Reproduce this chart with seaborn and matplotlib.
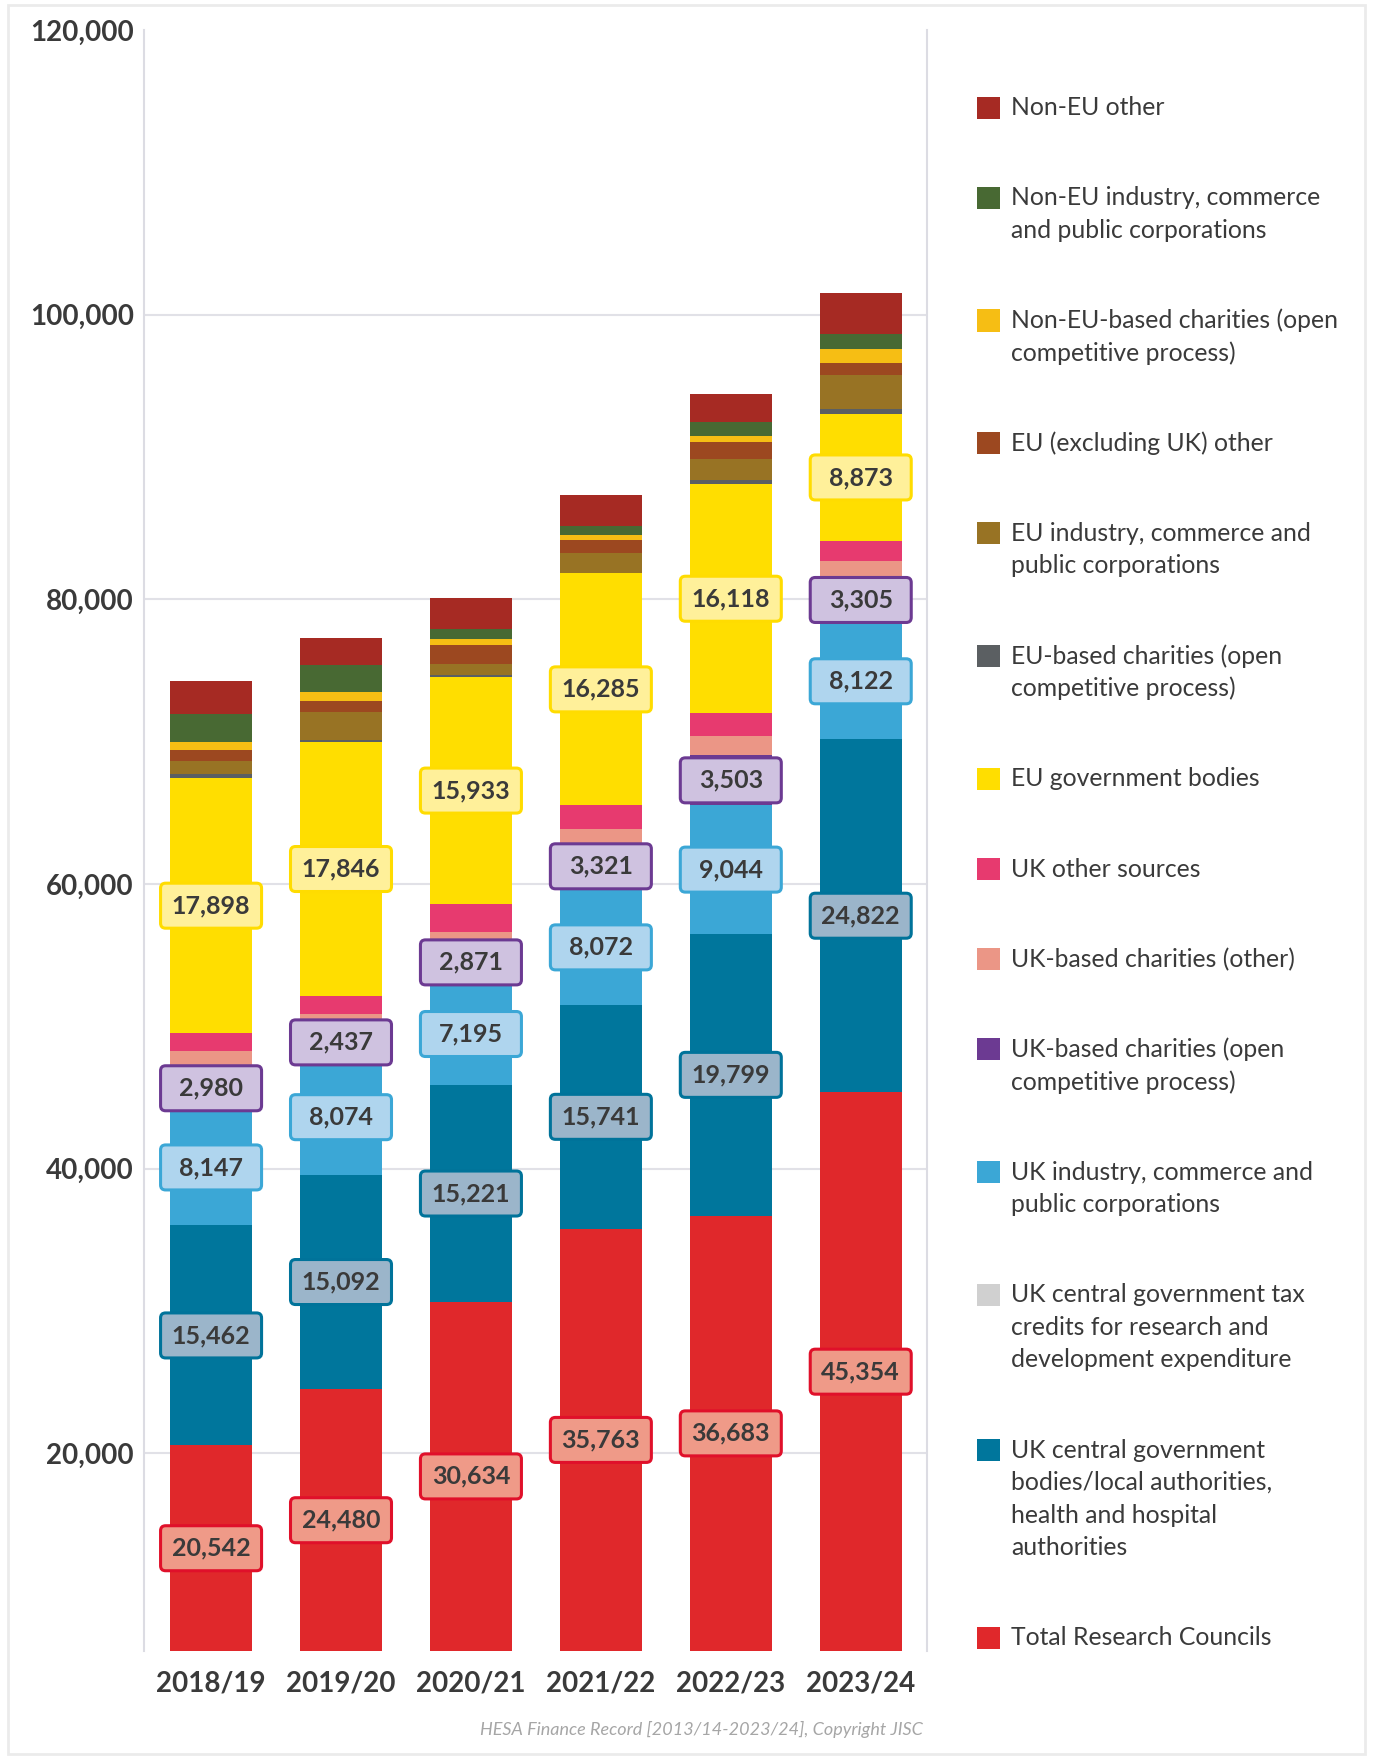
import pandas as pd
import seaborn as sns
import matplotlib.pyplot as plt
from matplotlib.patches import FancyBboxPatch, Rectangle
from matplotlib.transforms import ScaledTranslation

years = ['2018/19', '2019/20', '2020/21', '2021/22', '2022/23', '2023/24']

# stack order, bottom to top (values in £000s, labelled ones)
research_councils = [20542, 24480, 30634, 35763, 36683, 45354]
uk_gov_bodies = [15462, 15092, 15221, 15741, 19799, 24822]
uk_tax_credits = [0, 0, 0, 0, 0, 0]
uk_industry = [8147, 8074, 7195, 8072, 9044, 8122]
uk_charities_open = [2980, 2437, 2871, 3321, 3503, 3305]
uk_charities_other = [1120, 770, 700, 940, 1330, 1120]
uk_other = [1270, 1270, 1970, 1690, 1620, 1400]
eu_gov = [17898, 17846, 15933, 16285, 16118, 8873]
eu_charities = [280, 140, 140, 60, 280, 350]
eu_industry = [910, 1970, 770, 1400, 1480, 2390]
eu_other = [770, 770, 1340, 910, 1190, 840]
non_eu_charities = [560, 660, 420, 350, 420, 980]
non_eu_industry = [1970, 1870, 700, 630, 980, 1050]
non_eu_other = [2320, 1890, 2180, 2180, 1970, 2880]

series = ['Total Research Councils', 'UK central government bodies', 'UK tax credits',
          'UK industry', 'UK charities open', 'UK charities other', 'UK other',
          'EU government', 'EU charities', 'EU industry', 'EU other',
          'Non-EU charities', 'Non-EU industry', 'Non-EU other']
values = [research_councils, uk_gov_bodies, uk_tax_credits, uk_industry, uk_charities_open,
          uk_charities_other, uk_other, eu_gov, eu_charities, eu_industry, eu_other,
          non_eu_charities, non_eu_industry, non_eu_other]
colors = ['#e0282b', '#00769c', '#d0d0d0', '#3ba7d6', '#6c3a92', '#eb9686', '#e73a6f',
          '#ffde00', '#5b5f62', '#987324', '#9c4820', '#f6be14', '#486933', '#a62a23']
legend_labels = ['Total Research Councils',
                 'UK central government\nbodies/local authorities,\nhealth and hospital\nauthorities',
                 'UK central government tax\ncredits for research and\ndevelopment expenditure',
                 'UK industry, commerce and\npublic corporations',
                 'UK-based charities (open\ncompetitive process)',
                 'UK-based charities (other)',
                 'UK other sources',
                 'EU government bodies',
                 'EU-based charities (open\ncompetitive process)',
                 'EU industry, commerce and\npublic corporations',
                 'EU (excluding UK) other',
                 'Non-EU-based charities (open\ncompetitive process)',
                 'Non-EU industry, commerce\nand public corporations',
                 'Non-EU other']

# label boxes: series -> (face, edge)
label_style = {
    'Total Research Councils': ('#ef9a88', '#e0102a'),
    'UK central government bodies': ('#9bb5ca', '#00739a'),
    'UK industry': ('#afd5ee', '#3ba7d6'),
    'UK charities open': ('#cfc2e0', '#6c3a92'),
    'EU government': ('#fff09a', '#ffdc00'),
}

df = pd.DataFrame(dict(zip(series, values)), index=years)
cum = df.cumsum(axis=1)

sns.set_theme(style='white')
plt.rcParams['font.family'] = ['Lato', 'DejaVu Sans']

W, H = 1373, 1757
fig = plt.figure(figsize=(W / 100, H / 100), dpi=100)
ax = fig.add_axes([143.5 / W, 1 - 1651 / H, 783.5 / W, 1621 / H])

# stacked bars: draw cumulative totals from the top down
for name, color in reversed(list(zip(series, colors))):
    sns.barplot(x=years, y=cum[name].values, color=color, saturation=1,
                width=0.63, errorbar=None, linewidth=0, ax=ax, zorder=2)

ymin, ymax = 6100, 120000
ax.set_ylim(ymin, ymax)
ax.set_xlim(-0.52, 5.51)
yticks = list(range(20000, 120001, 20000))
ax.set_yticks(yticks)
ax.set_yticklabels([f'{v:,}' for v in yticks])
ax.set_xticks(range(len(years)))
ax.set_xticklabels(years)
ax.set_xlabel('')
ax.set_ylabel('')
for v in yticks[:-1]:
    ax.axhline(v, color='#e1e1e7', lw=1.5, zorder=1)

for side in ['top', 'bottom']:
    ax.spines[side].set_visible(False)
for side in ['left', 'right']:
    ax.spines[side].set_color('#dcdce3')
    ax.spines[side].set_linewidth(1.5)

ax.tick_params(axis='y', length=0, labelsize=20, labelcolor='#3a3a3a', pad=7)
ax.tick_params(axis='x', length=0, labelsize=20, labelcolor='#3a3a3a', pad=14)
for lab in ax.get_xticklabels() + ax.get_yticklabels():
    lab.set_fontweight('bold')

# value labels
for name, (fc, ec) in label_style.items():
    for i, yr in enumerate(years):
        val = df.loc[yr, name]
        top = cum.loc[yr, name]
        lo = max(top - val, ymin)
        ymid = (lo + top) / 2
        box = FancyBboxPatch((-0.505, -0.225), 1.01, 0.45,
                             boxstyle='round,pad=0,rounding_size=0.05',
                             fc=fc, ec=ec, lw=2.2, zorder=5,
                             transform=fig.dpi_scale_trans + ScaledTranslation(i, ymid, ax.transData))
        ax.add_artist(box)
        ax.text(i, ymid, f'{val:,}', ha='center', va='center', fontsize=18,
                fontweight='bold', color='#3a3a3a', zorder=6)

# legend, top to bottom
y = 107.6
for label, color in reversed(list(zip(legend_labels, colors))):
    lines = label.split('\n')
    fig.add_artist(Rectangle((977 / W, 1 - (y + 11) / H), 23 / W, 22 / H,
                             transform=fig.transFigure, color=color, lw=0))
    for j, line in enumerate(lines):
        fig.text(1011 / W, 1 - (y + j * 32.5) / H, line, va='center', fontsize=17.8, color='#3a3a3a')
    y += (len(lines) - 1) * 32.5 + 90.2

fig.text(922.5 / W, 1 - 1729 / H, 'HESA Finance Record [2013/14-2023/24], Copyright JISC',
         ha='right', va='center', style='italic', fontsize=13, color='#a6a6a6')

fig.add_artist(Rectangle((8 / W, 1 - 1754 / H), 1357 / W, 1749.5 / H, fill=False,
                         ec='#ebebeb', lw=2, transform=fig.transFigure))

fig.savefig('out.png', dpi=100)
